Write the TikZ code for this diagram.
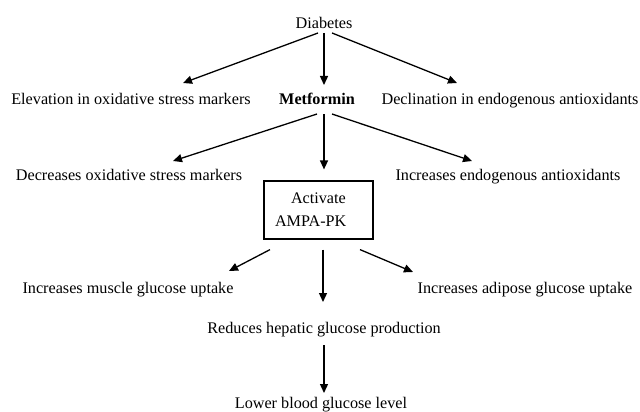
\documentclass[tikz,border=0pt]{standalone}
\usepackage{fontspec}
\setmainfont{Liberation Serif}
\usetikzlibrary{arrows.meta,calc}
\begin{document}
\begin{tikzpicture}[x=1pt,y=-1pt,
  txt/.style={inner sep=0pt,anchor=base,font=\fontsize{16.2}{23}\selectfont},
  boxnode/.style={draw,line width=1.2pt,minimum width=109pt,minimum height=58pt,
    text width=87pt,inner xsep=11pt,inner ysep=0pt,align=left,
    font=\fontsize{16.2}{23}\selectfont},
  arr/.style={line width=1.3pt,-{Triangle[length=9pt,width=8pt]}}]
\useasboundingbox (0,0) rectangle (640,412);
\node[txt] (diab) at (324,29) {Diabetes};
\node[txt] (elev) at (131,104) {Elevation in oxidative stress markers};
\node[txt,font=\fontsize{16.2}{23}\selectfont\bfseries] (metf) at (317,104) {Metformin};
\node[txt] (decl) at (510,104) {Declination in endogenous antioxidants};
\node[txt] (decr) at (129,180) {Decreases oxidative stress markers};
\node[txt] (incr) at (508,180) {Increases endogenous antioxidants};
\node[boxnode] (ampk) at (318.5,210) {\hspace*{16pt}Activate\\AMPA-PK};
\node[txt] (musc) at (128,293) {Increases muscle glucose uptake};
\node[txt] (adip) at (525,293) {Increases adipose glucose uptake};
\node[txt] (redu) at (324,333) {Reduces hepatic glucose production};
\node[txt] (lowr) at (321,408) {Lower blood glucose level};
% Diabetes
\draw[arr] ($(diab.base)+(-6,4)$) -- ($(elev.base)+(52,-21)$);
\draw[arr] ($(diab.base)+(0,4)$) -- ($(metf.base)+(7,-19)$);
\draw[arr] ($(diab.base)+(8,4)$) -- ($(decl.base)+(-53,-21)$);
% Metformin
\draw[arr] ($(metf.base)+(0,10)$) -- ($(decr.base)+(44,-19)$);
\draw[arr] ($(metf.base)+(7,10)$) -- ($(ampk.north)+(5.5,-11)$);
\draw[arr] ($(metf.base)+(15,10)$) -- ($(incr.base)+(-36,-19)$);
% AMPK
\draw[arr] ($(ampk.south)+(-48.5,10)$) -- ($(musc.base)+(101,-22)$);
\draw[arr] ($(ampk.south)+(4.5,10)$) -- ($(redu.base)+(-1,-31)$);
\draw[arr] ($(ampk.south)+(41.5,10)$) -- ($(adip.base)+(-112,-21)$);
% bottom
\draw[arr] ($(redu.base)+(0,12)$) -- ($(lowr.base)+(3,-15)$);
\end{tikzpicture}
\end{document}
